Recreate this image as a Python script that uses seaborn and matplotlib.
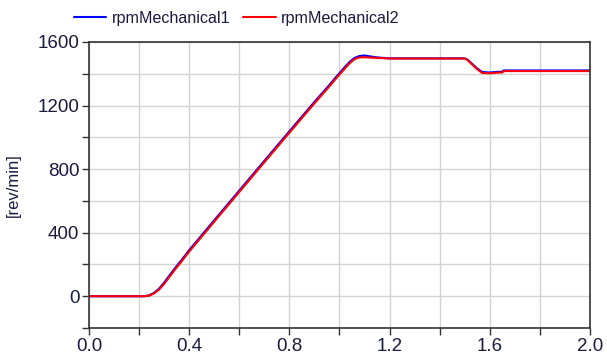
import matplotlib
matplotlib.use("Agg")
import matplotlib.pyplot as plt
from matplotlib.ticker import MultipleLocator, FormatStrFormatter
import pandas as pd
import seaborn as sns

# Simulation time [s]
time = [0.0, 0.20, 0.22, 0.24, 0.26, 0.28, 0.30, 0.32, 0.34, 0.37, 0.40, 0.50, 0.60,
        0.70, 0.80, 0.90, 0.96, 0.98, 1.00, 1.02, 1.04, 1.06, 1.08, 1.10, 1.12,
        1.15, 1.20, 1.50, 1.51, 1.53, 1.55, 1.57, 1.60, 1.63, 1.65, 1.655, 1.70, 2.00]

# Mechanical speed of machine 1 [rev/min]
rpm_mechanical1 = [0, 0, 0, 5, 22, 48, 86, 128, 170, 229, 290, 478, 665,
                   852, 1038, 1223, 1330, 1368, 1404, 1440, 1474, 1500, 1512, 1515, 1510,
                   1503, 1497, 1497, 1490, 1462, 1433, 1411, 1408, 1412, 1413, 1421, 1421, 1421]

# Mechanical speed of machine 2 [rev/min]
rpm_mechanical2 = [0, 0, 0, 3, 18, 42, 78, 119, 161, 220, 281, 469, 656,
                   843, 1029, 1214, 1321, 1359, 1395, 1431, 1465, 1492, 1503, 1504, 1502,
                   1500, 1496, 1496, 1488, 1458, 1428, 1405, 1403, 1407, 1408, 1417, 1417, 1417]

series_names = ["rpmMechanical1", "rpmMechanical2"]
series_colors = ["#0000ff", "#ff0000"]

df = pd.DataFrame({"time": time,
                   series_names[0]: rpm_mechanical1,
                   series_names[1]: rpm_mechanical2})
long_df = df.melt(id_vars="time", var_name="signal", value_name="rpm")

sns.set_theme(style="white")
plt.rcParams["font.family"] = ["Liberation Sans", "DejaVu Sans"]

text_color = "#1a1a40"
fig = plt.figure(figsize=(6.07, 3.63), dpi=100)
ax = fig.add_axes([0.1466, 0.0964, 0.8254, 0.7879])

sns.lineplot(data=long_df, x="time", y="rpm", hue="signal",
             palette=dict(zip(series_names, series_colors)),
             linewidth=1.5, ax=ax, legend=False)

ax.set_xlim(0.0, 2.0)
ax.set_ylim(-200, 1600)
ax.xaxis.set_major_locator(MultipleLocator(0.4))
ax.xaxis.set_minor_locator(MultipleLocator(0.2))
ax.yaxis.set_major_locator(MultipleLocator(400))
ax.yaxis.set_minor_locator(MultipleLocator(200))
ax.xaxis.set_major_formatter(FormatStrFormatter("%.1f"))
ax.yaxis.set_major_formatter(FormatStrFormatter("%d"))

ax.grid(True, which="both", color="#d3d3d3", linewidth=1.0)
ax.set_axisbelow(True)
for s in ax.spines.values():
    s.set_color("#333333")
    s.set_linewidth(1.2)

ax.tick_params(axis="both", which="both", direction="out", length=5, width=1.0,
               color="#333333", labelsize=13.5, labelcolor=text_color, pad=2,
               bottom=True, left=True)

ax.set_xlabel("")
ax.set_ylabel("[rev/min]", fontsize=12, color=text_color, labelpad=12)

handles = [plt.Line2D([], [], color=c, linewidth=1.5) for c in series_colors]
fig.legend(handles, series_names, loc="center left", bbox_to_anchor=(0.098, 0.95),
           ncol=2, frameon=False, fontsize=11.6, handlelength=2.0, handletextpad=0.35,
           columnspacing=0.8, labelcolor=text_color)

fig.savefig("out.png", dpi=100)
